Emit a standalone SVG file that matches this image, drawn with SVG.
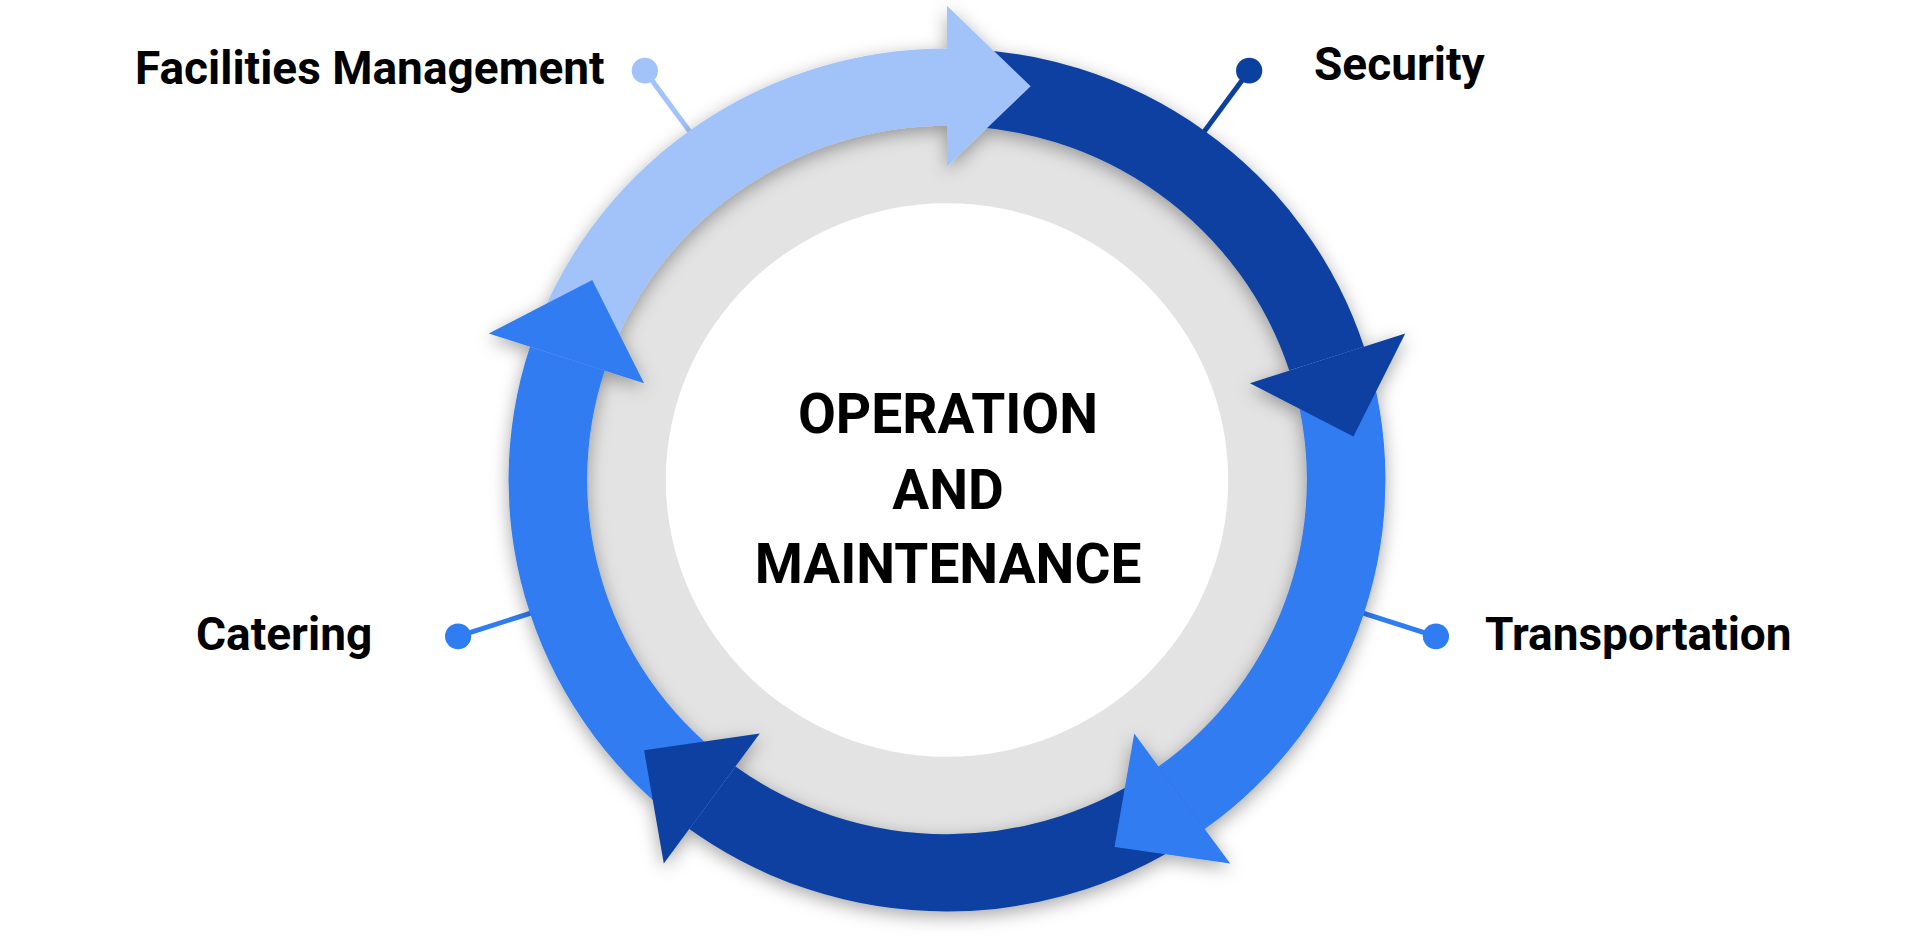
<svg xmlns="http://www.w3.org/2000/svg" width="1921" height="942" viewBox="0 0 1921 942">
  <defs>
    <style>
      .lbl { font-family: Roboto, "Liberation Sans", Arial, sans-serif; font-weight: 700; font-size: 46px; fill: #000; }
      .ctr { font-family: Roboto, "Liberation Sans", Arial, sans-serif; font-weight: 700; font-size: 55px; fill: #000; text-anchor: middle; }
      .light { fill: #A1C3F9; stroke: #A1C3F9; }
      .dark { fill: #0A41A0; stroke: #0A41A0; }
      .mid { fill: #307CF2; stroke: #307CF2; }
      path.body { fill: none; stroke-width: 78; stroke-linecap: butt; }
      line.lead { stroke-width: 5; fill: none; }
      polygon.head, circle.dot { stroke: none; }
    </style>
    <filter id="shadow" x="-20%" y="-20%" width="140%" height="140%">
      <feDropShadow dx="0" dy="5" stdDeviation="9" flood-color="#000" flood-opacity="0.35"/>
    </filter>
  </defs>
  <rect width="1921" height="942" fill="#fff"/>

  <g transform="translate(947,480) scale(1.008,0.992)">
    <g id="connectors">
      <line class="lead light" x1="-252.75" y1="-347.88" x2="-299.77" y2="-412.60"/>
      <line class="lead dark" x1="252.75" y1="-347.88" x2="299.77" y2="-412.60"/>
      <line class="lead mid" x1="408.96" y1="132.88" x2="485.04" y2="157.60"/>
      <line class="lead mid" x1="-408.96" y1="132.88" x2="-485.04" y2="157.60"/>
    </g>

    <g id="hub-disc">
      <circle r="360" fill="#E3E3E3"/>
      <circle r="279" fill="#FFFFFF"/>
    </g>

    <g id="ring" filter="url(#shadow)">
      <path class="body light" d="M -376.62 -122.37 A 396 396 0 0 1 0 -396"/>
      <path class="body dark" d="M 0 -396 A 396 396 0 0 1 376.62 -122.37"/>
      <path class="body mid" d="M 376.62 -122.37 A 396 396 0 0 1 232.76 320.37"/>
      <path class="body dark" d="M 232.76 320.37 A 396 396 0 0 1 -232.76 320.37"/>
      <path class="body mid" d="M -232.76 320.37 A 396 396 0 0 1 -376.62 -122.37"/>
      <polygon class="head light" points="0,-478 83,-397 0,-316"/>
      <polygon class="head dark" points="454.61,-147.71 403.22,-43.74 300.53,-97.65"/>
      <polygon class="head mid" points="280.96,386.71 166.20,369.97 185.74,255.65"/>
      <polygon class="head dark" points="-280.96,386.71 -300.50,272.39 -185.74,255.65"/>
      <polygon class="head mid" points="-454.61,-147.71 -351.92,-201.62 -300.53,-97.65"/>
    </g>

    <g id="dots">
      <circle class="dot light" cx="-299.77" cy="-412.60" r="13"/>
      <circle class="dot dark" cx="299.77" cy="-412.60" r="13"/>
      <circle class="dot mid" cx="485.04" cy="157.60" r="13"/>
      <circle class="dot mid" cx="-485.04" cy="157.60" r="13"/>
    </g>
  </g>

  <g id="node-center">
    <text class="ctr" x="948" y="433">OPERATION</text>
    <text class="ctr" x="948" y="509">AND</text>
    <text class="ctr" x="948" y="583">MAINTENANCE</text>
  </g>
  <g id="node-facilities">
    <text class="lbl" x="135" y="84">Facilities Management</text>
  </g>
  <g id="node-security">
    <text class="lbl" x="1314" y="80">Security</text>
  </g>
  <g id="node-transportation">
    <text class="lbl" x="1485" y="650">Transportation</text>
  </g>
  <g id="node-catering">
    <text class="lbl" x="196" y="650">Catering</text>
  </g>
</svg>
